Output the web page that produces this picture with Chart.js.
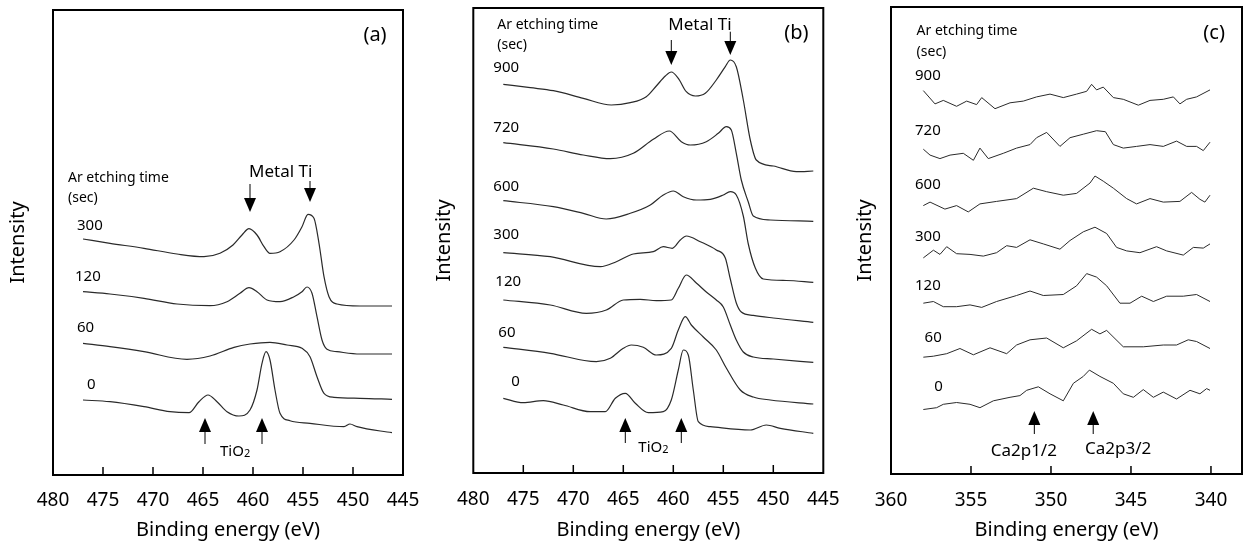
<!DOCTYPE html>
<html><head><meta charset="utf-8">
<script src="https://cdn.jsdelivr.net/npm/chart.js@4.4.0/dist/chart.umd.min.js"></script>
<style>
html,body{margin:0;padding:0;background:#fff;}
body{width:1244px;height:547px;position:relative;overflow:hidden;}
canvas{position:absolute;top:0;}
</style></head><body>
<canvas id="ca" width="440" height="547" style="left:0px"></canvas>
<canvas id="cb" width="440" height="547" style="left:420px"></canvas>
<canvas id="cc" width="414" height="547" style="left:830px"></canvas>
<script>
// ---------- tick labels ----------
const tiTicks = [480, 475, 470, 465, 460, 455, 450, 445];
const tiTickMarks = [475, 470, 465, 460, 455, 450];
const caTicks = [360, 355, 350, 345, 340];
const caTickMarks = [355, 350, 345, 340];

// ---------- panel (a): Ti 2p, etching 0-300 s ----------
const a300E = [477, 474.3, 470.9, 467.6, 464.9, 463.3, 462, 461.1, 460.4, 459.6, 458.9, 458.3, 457.3, 455.9, 455.1, 454.5, 453.9, 453.4, 452.9, 452.4, 451.6, 449.3, 446.1];
const a300I = [236, 231.7, 226.7, 221, 218.3, 221.7, 230, 240, 246.3, 240, 228.3, 221.7, 223.3, 235, 248.3, 260.7, 256.7, 231.7, 198.3, 178.3, 171, 169, 169];
const a120E = [477, 474.3, 470.9, 467.6, 464.3, 462.6, 461.3, 460.4, 459.6, 458.6, 457.3, 455.9, 455.1, 454.6, 454.1, 453.6, 453.1, 452.6, 451.6, 449.3, 446.1];
const a120I = [183.3, 181, 176.7, 171, 169.3, 173.3, 181.7, 187.3, 183.3, 175, 173.3, 178.3, 183.3, 188, 181.7, 158.3, 135, 125.7, 123.3, 121, 121];
const a60E = [477, 474.3, 470.9, 466.6, 464.3, 461.9, 460.3, 458.3, 456.6, 455.1, 454.3, 453.6, 452.9, 451.9, 449.3, 446.1];
const a60I = [131.7, 128.3, 123.3, 115.7, 119, 127.7, 131, 132.7, 130, 126.7, 118.3, 98.3, 81.7, 77.7, 76.7, 75.7];
const a0E = [477, 474.3, 470.9, 468.3, 466.4, 465.4, 464.5, 463.6, 462.6, 461.4, 460.3, 459.6, 459.1, 458.7, 458.3, 457.8, 457.3, 456.3, 454.3, 450.9, 450.3, 449.6, 446.1];
const a0I = [75, 73.3, 68.3, 63.3, 62.3, 73.3, 80, 73.3, 63.3, 59, 65, 85, 111.7, 123.3, 115, 85, 61.7, 54.3, 51.7, 48.3, 51, 48.3, 42.3];

// ---------- panel (b): Ti 2p, etching 0-900 s ----------
const b900E = [477, 474.3, 472, 469, 466.2, 464.3, 462.7, 461.7, 460.8, 460.2, 459.5, 458.7, 457.8, 456.8, 455.7, 454.8, 454.3, 453.7, 453, 452.3, 451.7, 450, 447.7, 446];
const b900I = [388.7, 385.3, 382.3, 374.7, 368, 370.3, 376.3, 387, 397, 401, 394.7, 381.3, 377, 379.7, 393, 406.3, 413, 406.3, 373, 333, 313, 307, 301.3, 302];
const b720E = [477, 472, 469, 466.3, 464, 462, 460.4, 459.2, 458.3, 456.7, 455.5, 454.7, 454.2, 453.7, 453.2, 452.5, 452, 450.3, 446];
const b720I = [330.3, 324, 318, 314.3, 319.7, 333.7, 342, 331.3, 328, 331.3, 339.7, 346.3, 343, 319.7, 293, 271, 257, 253, 251.7];
const b600E = [477, 472, 469, 466.7, 464.3, 462.3, 461, 460, 459, 457.7, 456.3, 455, 454.3, 453.7, 453, 452.5, 451.8, 451, 448.7, 446];
const b600I = [272.3, 266.3, 259.7, 254, 259.7, 268, 278, 282, 276.3, 273, 273.7, 278, 281.3, 278, 257, 229, 205, 194, 192.5, 190.7];
const b300E = [477, 472.3, 467.3, 465.7, 464, 462, 461, 460.1, 459.3, 458.7, 457.3, 455.7, 454.8, 454.3, 453.7, 453.2, 452, 450, 446];
const b300I = [220.3, 216.3, 206.3, 211.3, 219, 221.3, 226.3, 224.7, 233, 237, 231.3, 223, 215, 194, 170, 161, 157.6, 155, 150.6];
const b120E = [477, 472.3, 468.7, 466.7, 465, 463.3, 461.7, 460.2, 459.5, 458.7, 457.7, 456.7, 455.7, 455, 454.3, 453.7, 453, 452, 450, 446];
const b120I = [173, 168, 159.7, 163, 173, 173.7, 172.3, 173, 184.7, 198, 190, 181, 173, 166, 148, 133, 121, 116, 114, 110.6];
const b60E = [477, 472.3, 467.7, 466.3, 465, 464.2, 463, 461.7, 460.2, 459.5, 458.8, 458.2, 457, 455.7, 454.7, 453.3, 452, 450.3, 446];
const b60I = [125.7, 119.7, 111.3, 114.7, 124.7, 128, 125.7, 118, 124.7, 143, 156.3, 148, 136, 123, 105, 83, 76, 73, 69];
const b0E = [477, 475, 473, 471, 468.3, 466.8, 465.8, 464.8, 463.8, 462.5, 461, 460.2, 459.5, 459, 458.5, 458, 457.5, 456.3, 452.3, 450.7, 449.3, 446];
const b0I = [74.7, 70.3, 72.3, 68, 61.3, 61.3, 74.7, 79.7, 69.7, 60.3, 61.3, 73, 103, 123, 118, 83, 51.3, 46.3, 43, 48, 44.7, 39.7];

// ---------- panel (c): Ca 2p ----------
const c900E = [357.98, 357.25, 356.73, 355.9, 355.27, 354.65, 354.33, 353.5, 352.56, 351.73, 350.9, 350.06, 349.23, 348.4, 347.77, 347.46, 347.15, 346.73, 346.1, 345.48, 344.54, 343.81, 342.98, 342.35, 341.94, 341.52, 340.9, 340.06];
const c900I = [383.4, 370.1, 373.6, 367.7, 372.9, 369.4, 376.4, 365.3, 371.2, 372.9, 377.1, 379.9, 376.4, 379.9, 382.7, 389.7, 384.1, 386.9, 376.4, 374.7, 368.8, 373.6, 374.7, 377.1, 370.1, 374.7, 377.1, 384.1];
const c720E = [357.98, 357.56, 356.94, 356.31, 355.48, 354.85, 354.44, 353.92, 352.98, 352.15, 351.31, 350.9, 350.27, 349.44, 348.81, 347.98, 347.15, 346.6, 346.1, 345.48, 344.65, 343.81, 342.98, 342.15, 341.52, 340.9, 340.48, 340.06];
const c720I = [324.8, 318.9, 315.4, 318.9, 320.7, 313.7, 325.9, 315.4, 320.7, 325.9, 329.4, 336.3, 341.6, 327.6, 336.3, 339.8, 343.3, 342.3, 329.4, 325.9, 327.6, 329.4, 327.6, 332.9, 327.6, 327.6, 323.4, 331.8];
const c600E = [357.98, 357.56, 356.63, 355.9, 355.17, 354.44, 353.4, 352.15, 351.1, 350.27, 349.23, 348.4, 347.56, 347.25, 346.73, 346.1, 345.27, 344.65, 343.81, 342.98, 341.94, 341.21, 340.69, 340.38, 340.06];
const c600I = [268.4, 271.9, 264.9, 268.4, 262.1, 270.1, 272.6, 275.4, 285.8, 282.3, 278.8, 280.6, 291, 298, 292.8, 285.8, 275.4, 270.1, 275.4, 271.9, 272.6, 281.6, 274.7, 271.9, 278.8];
const c300E = [357.98, 357.35, 356.94, 356.52, 355.9, 355.06, 354.23, 353.4, 352.77, 352.15, 351.31, 350.48, 349.44, 348.81, 347.98, 347.25, 346.52, 345.9, 345.27, 344.44, 343.4, 342.77, 341.73, 341.1, 340.48, 340.06];
const c300I = [216.1, 223.8, 219.6, 227.3, 220.3, 219.6, 217.9, 221.3, 228.3, 226.6, 234.2, 230.1, 224.8, 233.5, 242.2, 246.8, 240.5, 226.6, 223.1, 221.3, 227.3, 223.1, 218.9, 226.6, 225.9, 230.1];
const c120E = [357.98, 357.35, 356.73, 355.9, 355.06, 354.33, 353.4, 352.15, 351.31, 350.48, 349.23, 348.4, 347.77, 347.15, 346.52, 345.69, 345.06, 344.33, 343.6, 342.77, 341.73, 340.9, 340.06];
const c120I = [170.8, 172.5, 167.3, 167.3, 169.1, 166.6, 172.5, 178.5, 183, 178.5, 179.5, 188.2, 200.4, 196.9, 188.2, 170.8, 170.8, 177.8, 172.5, 177.8, 177.8, 179.5, 172.5];
const c60E = [357.98, 357.35, 356.52, 355.69, 354.85, 353.81, 352.77, 352.15, 351.31, 350.27, 349.23, 348.4, 347.46, 346.94, 346.52, 345.48, 344.23, 342.98, 342.15, 341.42, 340.9, 340.06];
const c60I = [116.8, 117.8, 120.3, 125.5, 119.2, 126.2, 120.3, 129, 134.2, 136, 126.2, 133.2, 144.7, 140.1, 143.6, 127.2, 127.2, 129, 129, 134.2, 132.5, 125.5];
const c0E = [357.98, 357.15, 356.73, 355.9, 355.06, 354.44, 353.6, 352.56, 351.94, 351.52, 350.79, 350.06, 349.23, 348.6, 347.98, 347.6, 346.94, 346.1, 345.48, 344.85, 344.23, 343.6, 342.98, 342.15, 341.31, 340.69, 340.27, 340.06];
const c0I = [64.5, 66.3, 69.7, 71.5, 69.7, 66.3, 73.2, 76.7, 78.4, 83.7, 87.2, 80.2, 73.2, 90.7, 97.6, 103.9, 97.6, 90.7, 80.2, 76.7, 84.4, 76.7, 81.9, 75, 83.7, 80.2, 85.4, 83.7];

// ---------- helpers ----------
const FONT = "'Noto Sans', 'DejaVu Sans', sans-serif";
Chart.defaults.font.family = FONT;
Chart.defaults.color = '#000';

function series(E, I, jagged) {
  const s = {
    data: E.map((e, i) => ({x: e, y: I[i]})),
    borderColor: '#2a2a2a', borderWidth: jagged ? 1 : 1.2, pointRadius: 0, fill: false
  };
  if (jagged) { s.tension = 0; } else { s.cubicInterpolationMode = 'monotone'; }
  return s;
}

const annotPlugin = {
  id: 'annot',
  afterDatasetsDraw(chart, args, opts) {
    const ctx = chart.ctx, ca = chart.chartArea;
    const xs = chart.scales.x, ys = chart.scales.y;
    ctx.save();
    ctx.strokeStyle = '#000'; ctx.lineWidth = 2;
    ctx.strokeRect(ca.left, ca.top, ca.right - ca.left, ca.bottom - ca.top);
    ctx.lineWidth = 1.5;
    (opts.marks || []).forEach(v => {
      const px = xs.getPixelForValue(v);
      ctx.beginPath(); ctx.moveTo(px, ca.bottom); ctx.lineTo(px, ca.bottom - 8); ctx.stroke();
    });
    ctx.fillStyle = '#000'; ctx.textBaseline = 'middle';
    (opts.texts || []).forEach(t => {
      const px = xs.getPixelForValue(t.e), py = ys.getPixelForValue(t.i);
      ctx.font = t.size + 'px ' + FONT;
      ctx.textAlign = t.align || 'left';
      if (t.sub) {
        const w1 = ctx.measureText(t.text).width;
        ctx.font = Math.round(t.size * 0.72) + 'px ' + FONT;
        const w2 = ctx.measureText(t.sub).width;
        let x0 = px;
        if (t.align === 'center') x0 = px - (w1 + w2) / 2;
        ctx.textAlign = 'left';
        ctx.font = t.size + 'px ' + FONT;
        ctx.fillText(t.text, x0, py);
        ctx.font = Math.round(t.size * 0.72) + 'px ' + FONT;
        ctx.fillText(t.sub, x0 + w1, py + t.size * 0.15);
      } else {
        ctx.fillText(t.text, px, py);
      }
    });
    ctx.strokeStyle = '#000'; ctx.lineWidth = 1;
    (opts.arrows || []).forEach(a => {
      const px = xs.getPixelForValue(a.e);
      const y0 = ys.getPixelForValue(a.from), y1 = ys.getPixelForValue(a.to);
      const dir = y1 > y0 ? 1 : -1;
      const hl = 14, hw = 6;
      ctx.beginPath(); ctx.moveTo(px, y0); ctx.lineTo(px, y1 - dir * hl); ctx.stroke();
      ctx.beginPath();
      ctx.moveTo(px, y1); ctx.lineTo(px - hw, y1 - dir * hl); ctx.lineTo(px + hw, y1 - dir * hl);
      ctx.closePath(); ctx.fill();
    });
    ctx.restore();
  }
};

function makeChart(id, cfg) {
  return new Chart(document.getElementById(id), {
    type: 'line',
    data: { datasets: cfg.sets },
    plugins: [annotPlugin],
    options: {
      responsive: false, animation: false, devicePixelRatio: 1,
      layout: { padding: { left: 0, right: cfg.padRight, top: cfg.top, bottom: 0 } },
      plugins: { legend: { display: false }, tooltip: { enabled: false }, annot: cfg.annot },
      scales: {
        x: {
          type: 'linear', min: cfg.xmin, max: cfg.xmax, reverse: true,
          afterBuildTicks: s => { s.ticks = cfg.ticks.map(v => ({ value: v })); },
          afterFit: s => { s.height = cfg.xh; },
          grid: { display: false, drawTicks: false }, border: { display: false },
          ticks: { autoSkip: false, maxRotation: 0, padding: cfg.tickPad, color: '#000', font: { size: 19 } },
          title: { display: true, text: 'Binding energy (eV)', color: '#000', font: { size: 20 }, padding: { top: 0, bottom: 5 } }
        },
        y: {
          min: 0, max: cfg.ymax,
          afterFit: s => { s.width = cfg.yw; },
          grid: { display: false, drawTicks: false }, border: { display: false },
          ticks: { display: false },
          title: { display: true, text: 'Intensity', color: '#000', font: { size: 20 }, padding: { top: cfg.ytPad, bottom: 0 } }
        }
      }
    }
  });
}

makeChart('ca', {
  sets: [series(a300E, a300I), series(a120E, a120I), series(a60E, a60I), series(a0E, a0I)],
  padRight: 37, top: 10, xh: 72, yw: 53, ymax: 465, tickPad: 14, ytPad: 6,
  xmin: 445, xmax: 480, ticks: tiTicks,
  annot: {
    marks: tiTickMarks,
    texts: [
      { text: '(a)', e: 447.8, i: 440, size: 20, align: 'center' },
      { text: 'Ar etching time', e: 478.5, i: 297, size: 14 },
      { text: '(sec)', e: 478.5, i: 276.7, size: 14 },
      { text: '300', e: 477.6, i: 249, size: 15 },
      { text: '120', e: 477.8, i: 198, size: 15 },
      { text: '60', e: 477.6, i: 147, size: 15 },
      { text: '0', e: 476.6, i: 90, size: 15 },
      { text: 'Metal Ti', e: 460.4, i: 303.3, size: 17 },
      { text: 'TiO', sub: '2', e: 463.3, i: 23, size: 15 }
    ],
    arrows: [
      { e: 460.3, from: 291, to: 263 }, { e: 454.3, from: 294, to: 273 },
      { e: 464.8, from: 31, to: 57 }, { e: 459.1, from: 31, to: 57 }
    ]
  }
});

makeChart('cb', {
  sets: [series(b900E, b900I), series(b720E, b720I), series(b600E, b600I), series(b300E, b300I),
         series(b120E, b120I), series(b60E, b60I), series(b0E, b0I)],
  padRight: 36.7, top: 8, xh: 74, yw: 53.3, ymax: 465, tickPad: 15, ytPad: 12,
  xmin: 445, xmax: 480, ticks: tiTicks,
  annot: {
    marks: tiTickMarks,
    texts: [
      { text: '(b)', e: 447.7, i: 440, size: 20, align: 'center' },
      { text: 'Ar etching time', e: 477.6, i: 448, size: 14 },
      { text: '(sec)', e: 477.6, i: 428, size: 14 },
      { text: '900', e: 478, i: 405, size: 15 },
      { text: '720', e: 478, i: 345, size: 15 },
      { text: '600', e: 478, i: 286.3, size: 15 },
      { text: '300', e: 478, i: 238, size: 15 },
      { text: '120', e: 477.8, i: 191.3, size: 15 },
      { text: '60', e: 477.5, i: 140.3, size: 15 },
      { text: '0', e: 476.2, i: 91.3, size: 15 },
      { text: 'Metal Ti', e: 460.5, i: 448, size: 17 },
      { text: 'TiO', sub: '2', e: 463.5, i: 25, size: 15 }
    ],
    arrows: [
      { e: 460.2, from: 433, to: 408 }, { e: 454.3, from: 441.3, to: 418 },
      { e: 464.8, from: 30, to: 55 }, { e: 459.2, from: 30, to: 55 }
    ]
  }
});

makeChart('cc', {
  sets: [series(c900E, c900I, true), series(c720E, c720I, true), series(c600E, c600I, true), series(c300E, c300I, true),
         series(c120E, c120I, true), series(c60E, c60I, true), series(c0E, c0I, true)],
  padRight: 2, top: 7, xh: 73, yw: 61, ymax: 467, tickPad: 15, ytPad: 23.7,
  xmin: 338.06, xmax: 360, ticks: caTicks,
  annot: {
    marks: caTickMarks,
    texts: [
      { text: '(c)', e: 339.8, i: 441, size: 20, align: 'center' },
      { text: 'Ar etching time', e: 358.4, i: 442.6, size: 14 },
      { text: '(sec)', e: 358.4, i: 422.4, size: 14 },
      { text: '900', e: 358.5, i: 398, size: 15 },
      { text: '720', e: 358.5, i: 343.3, size: 15 },
      { text: '600', e: 358.5, i: 289.3, size: 15 },
      { text: '300', e: 358.5, i: 237.7, size: 15 },
      { text: '120', e: 358.5, i: 188.2, size: 15 },
      { text: '60', e: 357.9, i: 136, size: 15 },
      { text: '0', e: 357.3, i: 87.2, size: 15 },
      { text: 'Ca2p1/2', e: 351.7, i: 23, size: 17, align: 'center' },
      { text: 'Ca2p3/2', e: 345.8, i: 24.4, size: 17, align: 'center' }
    ],
    arrows: [
      { e: 351.04, from: 40, to: 63 }, { e: 347.36, from: 40, to: 63 }
    ]
  }
});
</script>
</body></html>
